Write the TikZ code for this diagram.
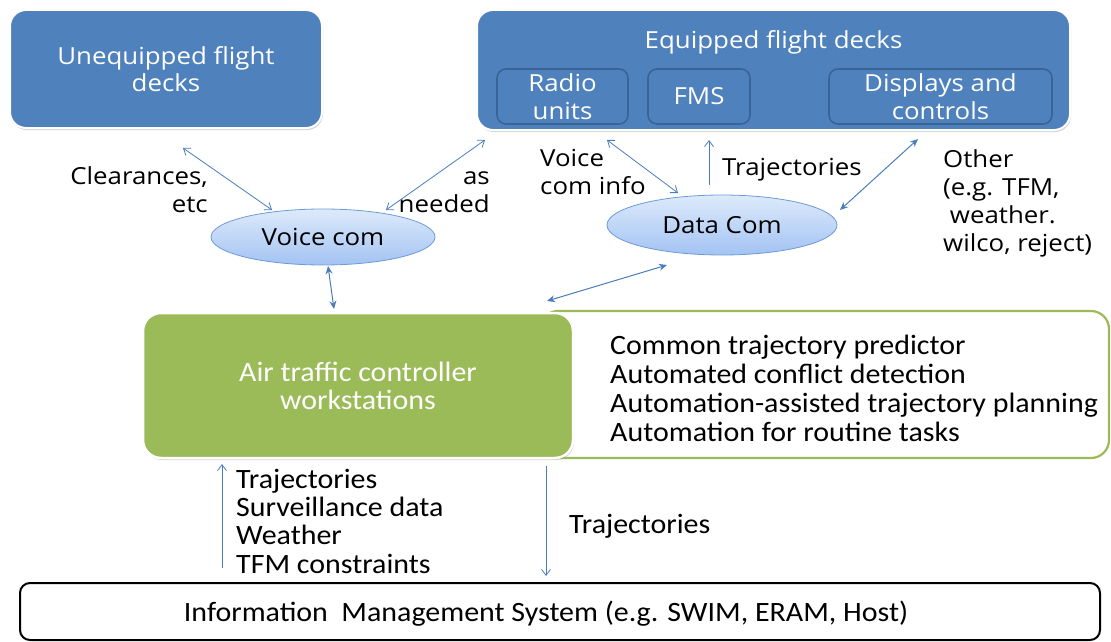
\documentclass[tikz,border=0pt]{standalone}
\usepackage{fontspec}
\setmainfont{Open Sans}
\newfontfamily\topfont[FakeStretch=1.1]{Open Sans}
\newfontfamily\calfont[FakeStretch=1.07]{Carlito}
\usetikzlibrary{shapes.geometric,arrows.meta,shadows,positioning}
\definecolor{deckblue}{HTML}{4F81BD}
\definecolor{deckedge}{HTML}{3A6496}
\definecolor{atcgreen}{HTML}{9BBB59}
\definecolor{arrowblue}{HTML}{4A7EBB}
\definecolor{elltop}{HTML}{DDEAFB}
\definecolor{ellbot}{HTML}{A3C3F3}
\definecolor{elledge}{HTML}{6E9BD6}
\tikzset{
  topfnt/.style={font=\topfont\fontsize{23.5}{27.5}\selectfont},
  lblfnt/.style={font=\topfont\fontsize{23.5}{28}\selectfont},
  deck/.style={rectangle, rounded corners=16pt, fill=deckblue, draw=white, line width=2pt,
    text=white, align=center, topfnt,
    drop shadow={opacity=0.35, shadow xshift=1pt, shadow yshift=-2pt}},
  subdeck/.style={rectangle, rounded corners=9pt, fill=deckblue, draw=deckedge, line width=1.6pt,
    text=white, align=center, topfnt},
  comell/.style={ellipse, top color=elltop, bottom color=ellbot, draw=elledge, line width=0.8pt,
    topfnt, inner sep=0pt},
  atcbox/.style={rectangle, rounded corners=18pt, fill=atcgreen, draw=white, line width=2.5pt,
    text=white, align=center, font=\calfont\fontsize{28}{28}\selectfont,
    drop shadow={opacity=0.35, shadow xshift=1pt, shadow yshift=-2pt}},
  funcbox/.style={rectangle, rounded corners=18pt, fill=white, draw=atcgreen, line width=2.2pt},
  imsbox/.style={rectangle, rounded corners=10pt, fill=white, draw=black, line width=2pt},
  lbl/.style={lblfnt, inner sep=0pt},
  lowlbl/.style={font=\calfont\fontsize{28}{28.2}\selectfont, inner sep=0pt, align=left},
  funclbl/.style={font=\calfont\fontsize{28}{28.7}\selectfont, inner sep=0pt, align=left},
  conn/.style={draw=arrowblue, line width=0.8pt},
  bothopen/.style={conn, {Straight Barb[length=6pt,width=9pt]}-{Straight Barb[length=6pt,width=9pt]}},
  bothfill/.style={conn, line width=1pt, {Stealth[length=8pt,width=7pt]}-{Stealth[length=8pt,width=7pt]}},
  oneopen/.style={conn, -{Straight Barb[length=6pt,width=9pt]}},
}
\begin{document}
\begin{tikzpicture}[x=1pt,y=-1pt]
\useasboundingbox (0,0) rectangle (1111,642);

% decks
\node[deck, minimum width=312pt, minimum height=118pt] (unq) at (166,69) {Unequipped flight\\decks};
\node[deck, minimum width=593pt, minimum height=120pt] (eq) at (773.5,70) {};
\node[topfnt, text=white] (eqtitle) at (773.5,42) {Equipped flight decks};
\node[subdeck, minimum width=131pt, minimum height=55pt] (radio) at (562.5,96.5) {Radio\\units};
\node[subdeck, minimum width=102pt, minimum height=55pt] (fms) at (699,96.5) {FMS};
\node[subdeck, minimum width=223pt, minimum height=55pt] (disp) at (940.5,96.5) {Displays and\\controls};

% com ellipses
\node[comell, minimum width=224pt, minimum height=56pt] (voice) at (323,237) {Voice com};
\node[comell, minimum width=230pt, minimum height=60pt] (data) at (722,225) {Data Com};

% ATC
\node[funcbox, minimum width=569pt, minimum height=147pt] (func) at (824.5,384.5) {};
\node[atcbox, minimum width=430pt, minimum height=145pt] (atc) at (358,385.5) {Air traffic controller\\workstations};
\node[funclbl, anchor=base west] (funcs) at (610,441) {Common trajectory predictor\\Automated conflict detection\\Automation-assisted trajectory planning\\Automation for routine tasks};

% IMS
\node[imsbox, minimum width=1080pt, minimum height=57pt] (ims) at (560,611.5) {};
\node[lowlbl, anchor=base] (imstext) at (546,621) {Information\ \ Management System (e.g. SWIM, ERAM, Host)};

% labels (multi-line nodes: base = baseline of last line)
\node[lbl, align=right, anchor=base east] (clr) at (208,212) {Clearances,\\etc};
\node[lbl, align=right, anchor=base east] (asn) at (490,212) {as\\needed};
\node[lbl, align=left, anchor=base west] (vci) at (540,194) {Voice\\com info};
\node[lbl, anchor=base west] (traj) at (722,175) {Trajectories};
\node[lbl, align=left, anchor=base west] (other) at (943,251) {Other\\(e.g. TFM,\\\ weather.\\wilco, reject)};
\node[lowlbl, anchor=base west] (uplist) at (236,573) {Trajectories\\Surveillance data\\Weather\\TFM constraints};
\node[lowlbl, anchor=base west] (dntraj) at (569,533) {Trajectories};

% connector end points
\coordinate (c1a) at (183,148); \coordinate (c1b) at (272,210);
\coordinate (c2a) at (485,140); \coordinate (c2b) at (386,210);
\coordinate (c3a) at (328,266); \coordinate (c3b) at (334,309);
\coordinate (c4a) at (547,301); \coordinate (c4b) at (667,265);
\coordinate (c5a) at (607,140); \coordinate (c5b) at (678,193);
\coordinate (c6a) at (709,185); \coordinate (c6b) at (709,140);
\coordinate (c7a) at (918,139); \coordinate (c7b) at (840,210);
\coordinate (c8a) at (222,568); \coordinate (c8b) at (222,464);
\coordinate (c9a) at (546,466); \coordinate (c9b) at (546,576);

\draw[bothopen] (c1a) -- (c1b);
\draw[bothopen] (c2a) -- (c2b);
\draw[bothfill] (c3a) -- (c3b);
\draw[bothfill] (c4a) -- (c4b);
\draw[bothopen] (c5a) -- (c5b);
\draw[oneopen] (c6a) -- (c6b);
\draw[bothfill] (c7a) -- (c7b);
\draw[oneopen] (c8a) -- (c8b);
\draw[oneopen] (c9a) -- (c9b);
\end{tikzpicture}
\end{document}
